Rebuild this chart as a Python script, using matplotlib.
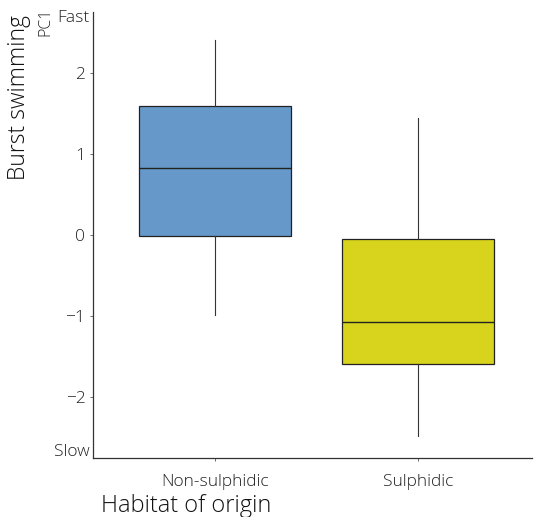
import matplotlib
matplotlib.use("Agg")
import matplotlib.pyplot as plt

plt.rcParams['font.family'] = ['Open Sans', 'DejaVu Sans']

categories = ["Non-sulphidic", "Sulphidic"]
whisker_low = [-0.99, -2.48]
q1 = [-0.01, -1.59]
median = [0.83, -1.07]
q3 = [1.59, -0.05]
whisker_high = [2.41, 1.44]
colors = ["#6699c9", "#d8d41e"]
yticks = [-2, -1, 0, 1, 2]
ytick_labels = ["\u22122", "\u22121", "0", "1", "2"]
end_labels = ["Slow", "Fast"]

W, H = 534, 517
fig = plt.figure(figsize=(W/100, H/100), dpi=100)
ax = fig.add_axes([93/W, 1-458/H, (532-93)/W, (458-12)/H])

stats = []
for i, c in enumerate(categories):
    stats.append(dict(label=c, whislo=whisker_low[i], q1=q1[i], med=median[i],
                      q3=q3[i], whishi=whisker_high[i], fliers=[]))
bp = ax.bxp(stats, positions=[1, 2], widths=0.75, patch_artist=True,
            showcaps=False,
            boxprops=dict(edgecolor="#222222", linewidth=0.9),
            medianprops=dict(color="#222222", linewidth=1.0),
            whiskerprops=dict(color="#333333", linewidth=0.8))
for patch, col in zip(bp['boxes'], colors):
    patch.set_facecolor(col)

ax.set_xlim(0.4, 2.56)
ax.set_ylim(-2.75, 2.75)
ax.spines['top'].set_visible(False)
ax.spines['right'].set_visible(False)
for s in ['left', 'bottom']:
    ax.spines[s].set_color('#333333')
    ax.spines[s].set_linewidth(0.9)

txt = '#222222'
ax.set_yticks(yticks)
ax.set_yticklabels(ytick_labels)
ax.set_xticks([1, 2])
ax.set_xticklabels(categories)
ax.tick_params(axis='both', length=2.5, width=0.6, color='#555555',
               labelcolor=txt, labelsize=12.5)
ax.tick_params(axis='x', pad=9)
ax.tick_params(axis='y', pad=3)

ax.text(-0.008, 2.68, end_labels[1], transform=ax.get_yaxis_transform(),
        ha='right', va='center', fontsize=12.5, color=txt, fontweight='light')
ax.text(-0.008, -2.68, end_labels[0], transform=ax.get_yaxis_transform(),
        ha='right', va='center', fontsize=12.5, color=txt, fontweight='light')

for lab in ax.get_xticklabels() + ax.get_yticklabels():
    lab.set_fontweight('light')

fig.text(19/W, 1-98/H, "Burst swimming", rotation=90, ha='center', va='center',
         fontsize=16.5, color='#111111', fontweight='light')
fig.text(45/W, 1-22/H, "PC1", rotation=90, ha='center', va='center',
         fontsize=11.5, color=txt, fontweight='light')
fig.text(101/W, 1-506/H, "Habitat of origin", ha='left', va='center',
         fontsize=17, color='#111111', fontweight='light')

fig.savefig("out.png", dpi=100)
